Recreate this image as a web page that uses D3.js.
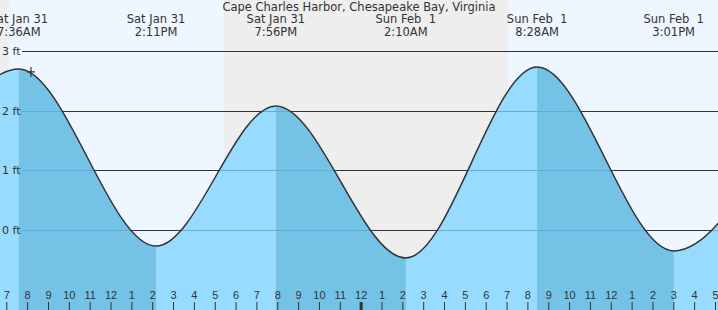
<!DOCTYPE html>
<html>
<head>
<meta charset="utf-8">
<script src="https://cdn.jsdelivr.net/npm/d3@7"></script>
<style>
  body { margin: 0; background: #eeeeee; }
  svg { display: block; font-family: "DejaVu Sans", sans-serif; }
  .axis text { font-size: 11px; fill: #333; }
</style>
</head>
<body>
<svg id="chart" width="718" height="310"></svg>
<script>
const title = 'Cape Charles Harbor, Chesapeake Bay, Virginia';

// high / low tide extremes (first and last fall outside the view)
const tideTimes = ['2026-01-31T01:20', '2026-01-31T07:36', '2026-01-31T14:11', '2026-01-31T19:56',
  '2026-02-01T02:10', '2026-02-01T08:28', '2026-02-01T15:01', '2026-02-01T20:55'];
const tideHeights = [-0.4, 2.70, -0.27, 2.08, -0.47, 2.73, -0.35, 2.3];
const tideLabels = ['', 'Sat Jan 31|7:36AM', 'Sat Jan 31|2:11PM', 'Sat Jan 31|7:56PM',
  'Sun Feb  1|2:10AM', 'Sun Feb  1|8:28AM', 'Sun Feb  1|3:01PM', ''];

const sunrise = ['2026-01-31T07:07', '2026-02-01T07:05'];
const sunset = ['2026-01-31T17:27', '2026-02-01T17:40'];

const feetTicks = [0, 1, 2, 3];
const markerTime = '2026-01-31T08:11';
const markerHeight = 2.65;

const W = 718;
const H = 310;
const cs = {
  pallette: {
    night: '#eeeeee',
    day: '#eef7ff',
    rising: '#97dcff',
    falling: '#74c2e6',
    gridWet: '#5eaedb',
    ink: '#333333',
  },
};

const parse = d3.isoParse;
const tides = tideTimes.map((t, i) => ({ t: parse(t), h: tideHeights[i], label: tideLabels[i] }));

const svg = d3.select('#chart');

// tick 7AM Jan 31 sits at x=6.3, 5PM Feb 1 at x=715
const x = d3.scaleTime()
  .domain([parse('2026-01-31T07:00'), parse('2026-02-01T17:00')])
  .range([6.3, 715]);
const y = d3.scaleLinear().domain([0, 3]).range([230, 51]);

const [x0, x1] = [x.invert(0), x.invert(W)];

// day / night background
svg.append('rect').attr('width', W).attr('height', H).attr('fill', cs.pallette.night);
svg.selectAll('rect.day')
  .data(sunrise.map((s, i) => [parse(s), parse(sunset[i])]))
  .enter()
  .append('rect')
  .attr('class', 'day')
  .attr('x', d => x(d[0]))
  .attr('width', d => x(d[1]) - x(d[0]))
  .attr('y', 0)
  .attr('height', H)
  .attr('fill', cs.pallette.day);

// water
const wet = d3.area().x(d => x(d.t)).y0(H).y1(d => y(d.h)).curve(d3.curveMonotoneX);
const dry = d3.area().x(d => x(d.t)).y0(0).y1(d => y(d.h)).curve(d3.curveMonotoneX);
const line = d3.line().x(d => x(d.t)).y(d => y(d.h)).curve(d3.curveMonotoneX);

const defs = svg.append('defs');
defs.append('clipPath').attr('id', 'wet').append('path').attr('d', wet(tides));
defs.append('clipPath').attr('id', 'dry').append('path').attr('d', dry(tides));

const water = svg.append('g').attr('clip-path', 'url(#wet)');
water.append('rect').attr('width', W).attr('height', H).attr('fill', cs.pallette.rising);

const falling = [];
tides.forEach((d, i) => {
  if (i < tides.length - 1 && tides[i + 1].h < d.h) falling.push([d.t, tides[i + 1].t]);
});
water.selectAll('rect.falling')
  .data(falling)
  .enter()
  .append('rect')
  .attr('class', 'falling')
  .attr('x', d => x(d[0]))
  .attr('width', d => x(d[1]) - x(d[0]))
  .attr('y', 0)
  .attr('height', H)
  .attr('fill', cs.pallette.falling);

// grid lines: dark above the water, faint blue under it
const grid = (g, colour) => g.selectAll('line')
  .data(feetTicks)
  .enter()
  .append('line')
  .attr('x1', 22)
  .attr('x2', W)
  .attr('y1', d => Math.round(y(d)) + 0.5)
  .attr('y2', d => Math.round(y(d)) + 0.5)
  .attr('stroke', colour)
  .attr('stroke-width', 1);

svg.append('g').attr('clip-path', 'url(#dry)').call(grid, cs.pallette.ink);
svg.append('g').attr('clip-path', 'url(#wet)').call(grid, cs.pallette.gridWet);

svg.append('g')
  .selectAll('text')
  .data(feetTicks)
  .enter()
  .append('text')
  .attr('x', 20.5)
  .attr('y', d => y(d))
  .attr('dy', '0.35em')
  .attr('text-anchor', 'end')
  .attr('font-size', 11)
  .attr('fill', cs.pallette.ink)
  .text(d => `${d} ft`);

svg.append('path')
  .attr('d', line(tides))
  .attr('fill', 'none')
  .attr('stroke', cs.pallette.ink)
  .attr('stroke-width', 1.5);

// current time marker
const mx = x(parse(markerTime));
const my = y(markerHeight);
svg.append('path')
  .attr('d', `M${mx - 4},${my}H${mx + 4}M${mx},${my - 5}V${my + 5}`)
  .attr('stroke', cs.pallette.ink)
  .attr('stroke-width', 1.2);

// hour axis along the bottom
const axis = d3.axisTop(x)
  .ticks(d3.timeHour.every(1))
  .tickSize(8)
  .tickPadding(3)
  .tickFormat(d3.timeFormat('%-I'));
const ax = svg.append('g')
  .attr('class', 'axis')
  .attr('transform', `translate(0,${H})`)
  .call(axis);
ax.select('.domain').remove();
ax.selectAll('.tick line')
  .attr('stroke', cs.pallette.ink)
  .attr('stroke-width', d => (d.getHours() === 0 ? 3 : 1));

// high / low labels
const labels = svg.append('g')
  .attr('font-size', 11.5)
  .attr('fill', cs.pallette.ink)
  .attr('text-anchor', 'middle');
labels.selectAll('text')
  .data(tides.filter(d => d.label && d.t >= x0 && d.t <= x1))
  .enter()
  .append('text')
  .attr('x', d => x(d.t))
  .attr('y', 23)
  .attr('xml:space', 'preserve')
  .style('white-space', 'pre')
  .each(function (d) {
    const parts = d.label.split('|');
    d3.select(this).append('tspan').attr('x', x(d.t)).text(parts[0]);
    d3.select(this).append('tspan').attr('x', x(d.t)).attr('dy', 12.5).text(parts[1]);
  });

labels.append('text')
  .attr('x', 359)
  .attr('y', 11)
  .text(title);
</script>
</body>
</html>
